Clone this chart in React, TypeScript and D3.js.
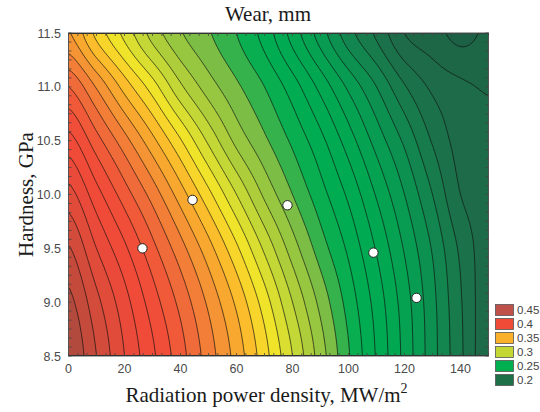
import React, { useMemo } from "react";
import * as d3 from "d3";

// ---- data ----
const xGrid = [0, 10, 20, 30, 40, 50, 60, 70, 80, 90, 100, 110, 120, 130, 140, 150];
const yGrid = [8.5, 9.0, 9.5, 10.0, 10.5, 11.0, 11.5];
const wear85 = [0.460, 0.440, 0.420, 0.402, 0.384, 0.365, 0.346, 0.324, 0.300, 0.275, 0.251, 0.229, 0.207, 0.184, 0.162, 0.142];
const wear90 = [0.453, 0.433, 0.414, 0.395, 0.377, 0.358, 0.338, 0.315, 0.290, 0.267, 0.246, 0.226, 0.205, 0.183, 0.161, 0.143];
const wear95 = [0.441, 0.420, 0.402, 0.383, 0.364, 0.344, 0.322, 0.298, 0.275, 0.255, 0.238, 0.219, 0.199, 0.179, 0.158, 0.144];
const wear100 = [0.424, 0.404, 0.385, 0.366, 0.345, 0.323, 0.300, 0.278, 0.260, 0.244, 0.228, 0.209, 0.190, 0.170, 0.150, 0.145];
const wear105 = [0.404, 0.384, 0.364, 0.343, 0.321, 0.298, 0.277, 0.262, 0.248, 0.233, 0.215, 0.196, 0.178, 0.159, 0.146, 0.144];
const wear110 = [0.380, 0.359, 0.336, 0.315, 0.292, 0.275, 0.262, 0.250, 0.235, 0.217, 0.198, 0.180, 0.161, 0.148, 0.142, 0.139];
const wear115 = [0.351, 0.327, 0.307, 0.286, 0.271, 0.261, 0.250, 0.236, 0.216, 0.195, 0.174, 0.158, 0.140, 0.134, 0.127, 0.132];
const wearRows = [wear85, wear90, wear95, wear100, wear105, wear110, wear115];

const pointX = [26.4, 44.3, 78.2, 108.9, 124.3];
const pointY = [9.5, 9.95, 9.9, 9.46, 9.04];

const bandLevels = d3.range(12, 47).map((d) => d / 100);
const bandColors = [
  "#1c6145", "#1d6646", "#1d6b48", "#1b724a", "#177b4c", "#12864e", "#0c9150", "#089b52", "#05a252",
  "#02a752", "#00aa52", "#00ac51", "#08ae50", "#35b24b", "#7bbd45", "#97c640", "#adce3a", "#c3d736",
  "#d9de30", "#f0e42b", "#f7d52b", "#fbbd2c", "#f8a82f", "#f59434", "#f27e37", "#f06b3a", "#f05a39",
  "#f04e38", "#f04b38", "#ea4a39", "#e04b3a", "#d24b3b", "#c44b3c", "#b34a3e", "#9e4840",
];

const legendLabels = ["0.45", "0.4", "0.35", "0.3", "0.25", "0.2"];
const legendColors = ["#c0504a", "#f04b37", "#fbb02c", "#c3d735", "#00b050", "#1e7048"];

const xTicks = [0, 20, 40, 60, 80, 100, 120, 140];
const yTicks = [8.5, 9.0, 9.5, 10.0, 10.5, 11.0, 11.5];

// ---- layout ----
const PL = 68.5, PR = 488.5, PT = 33, PB = 356;
const NX = 210, NY = 162;

function catmull(p0: number, p1: number, p2: number, p3: number, t: number) {
  return p1 + 0.5 * t * (p2 - p0 + t * (2 * p0 - 5 * p1 + 4 * p2 - p3 + t * (3 * (p1 - p2) + p3 - p0)));
}

function sampleField(xv: number, yv: number) {
  const nc = xGrid.length, nr = yGrid.length;
  const u = ((xv - xGrid[0]) / (xGrid[nc - 1] - xGrid[0])) * (nc - 1);
  const v = ((yv - yGrid[0]) / (yGrid[nr - 1] - yGrid[0])) * (nr - 1);
  const i = Math.max(0, Math.min(nc - 2, Math.floor(u)));
  const j = Math.max(0, Math.min(nr - 2, Math.floor(v)));
  const tu = u - i, tv = v - j;
  const ci = (k: number) => Math.max(0, Math.min(nc - 1, k));
  const cj = (k: number) => Math.max(0, Math.min(nr - 1, k));
  const rowVal = (r: number[]) => catmull(r[ci(i - 1)], r[ci(i)], r[ci(i + 1)], r[ci(i + 2)], tu);
  return catmull(
    rowVal(wearRows[cj(j - 1)]),
    rowVal(wearRows[cj(j)]),
    rowVal(wearRows[cj(j + 1)]),
    rowVal(wearRows[cj(j + 2)]),
    tv
  );
}

export default function App() {
  const x = d3.scaleLinear().domain([0, 150]).range([PL, PR]);
  const y = d3.scaleLinear().domain([8.5, 11.5]).range([PB, PT]);

  const contourPaths = useMemo(() => {
    const vals = new Array(NX * NY);
    for (let j = 0; j < NY; j++) {
      const yv = y.invert(PT + ((j + 0.5) / NY) * (PB - PT));
      for (let i = 0; i < NX; i++) {
        const xv = x.invert(PL + ((i + 0.5) / NX) * (PR - PL));
        vals[j * NX + i] = sampleField(xv, yv);
      }
    }
    const contours = d3.contours().size([NX, NY]).thresholds(bandLevels)(vals);
    const sx = (PR - PL) / NX, sy = (PB - PT) / NY;
    const proj = d3.geoTransform({
      point(px: number, py: number) {
        (this as any).stream.point(PL + px * sx, PT + py * sy);
      },
    });
    const path = d3.geoPath(proj);
    return contours.map((c, k) => ({ d: path(c as any) || "", color: bandColors[k], value: c.value }));
  }, []);

  const xMinor = d3.range(0, 61).map((k) => (k * 20) / 6).filter((v) => v <= 150.001);
  const yMinor = d3.range(0, 37).map((k) => 8.5 + (k * 0.5) / 6);

  return (
    <svg width={540} height={412} style={{ position: "absolute", left: 0, top: 0, background: "#fff" }}>
      <defs>
        <clipPath id="plotClip">
          <rect x={PL} y={PT} width={PR - PL} height={PB - PT} />
        </clipPath>
      </defs>
      <text x={268} y={21} textAnchor="middle" fontFamily="'Liberation Serif', serif" fontSize={21} fill="#1a1a1a">Wear, mm</text>
      <g clipPath="url(#plotClip)">
        <rect x={PL} y={PT} width={PR - PL} height={PB - PT} fill={bandColors[0]} />
        {contourPaths.map((c, k) => (
          <path key={"f" + k} d={c.d} fill={c.color} stroke="none" />
        ))}
        {contourPaths.map((c, k) => (
          <path key={"s" + k} d={c.d} fill="none" stroke="#111" strokeOpacity={0.9} strokeWidth={0.75} />
        ))}
      </g>
      <rect x={PL} y={PT} width={PR - PL} height={PB - PT} fill="none" stroke="#555" strokeWidth={1} />
      <g stroke="#444" strokeWidth={0.8}>
        {xMinor.map((v, k) => (
          <g key={"xm" + k}>
            <line x1={x(v)} x2={x(v)} y1={PB} y2={PB - 3} />
            <line x1={x(v)} x2={x(v)} y1={PT} y2={PT + 3} />
          </g>
        ))}
        {yMinor.map((v, k) => (
          <g key={"ym" + k}>
            <line x1={PL} x2={PL + 3} y1={y(v)} y2={y(v)} />
            <line x1={PR} x2={PR - 3} y1={y(v)} y2={y(v)} />
          </g>
        ))}
      </g>
      <g fontFamily="'Liberation Sans', Arial, sans-serif" fontSize={12.5} fill="#4a4a4a">
        {xTicks.map((v) => (
          <text key={"xt" + v} x={x(v)} y={373} textAnchor="middle">{v}</text>
        ))}
        {yTicks.map((v) => (
          <text key={"yt" + v} x={61} y={y(v)} dy="0.36em" textAnchor="end">{v.toFixed(1)}</text>
        ))}
      </g>
      {pointX.map((px, k) => (
        <circle key={"p" + k} cx={x(px)} cy={y(pointY[k])} r={4.7} fill="#fff" stroke="#222" strokeWidth={1} />
      ))}
      <text x={266.5} y={402} textAnchor="middle" fontFamily="'Liberation Serif', serif" fontSize={21} fill="#1a1a1a">
        Radiation power density, MW/m<tspan fontSize={14} dy={-9}>2</tspan>
      </text>
      <text transform={`translate(33,${(PT + PB) / 2}) rotate(-90)`} textAnchor="middle" fontFamily="'Liberation Serif', serif" fontSize={21} fill="#1a1a1a">
        Hardness, GPa
      </text>
      <g>
        {legendLabels.map((lab, k) => (
          <g key={"lg" + k}>
            <rect x={495.5} y={304.5 + k * 14} width={18} height={11} fill={legendColors[k]} stroke="#555" strokeWidth={0.8} />
            <text x={517} y={314 + k * 14} fontFamily="'Liberation Sans', Arial, sans-serif" fontSize={11.5} fill="#444">{lab}</text>
          </g>
        ))}
      </g>
    </svg>
  );
}
